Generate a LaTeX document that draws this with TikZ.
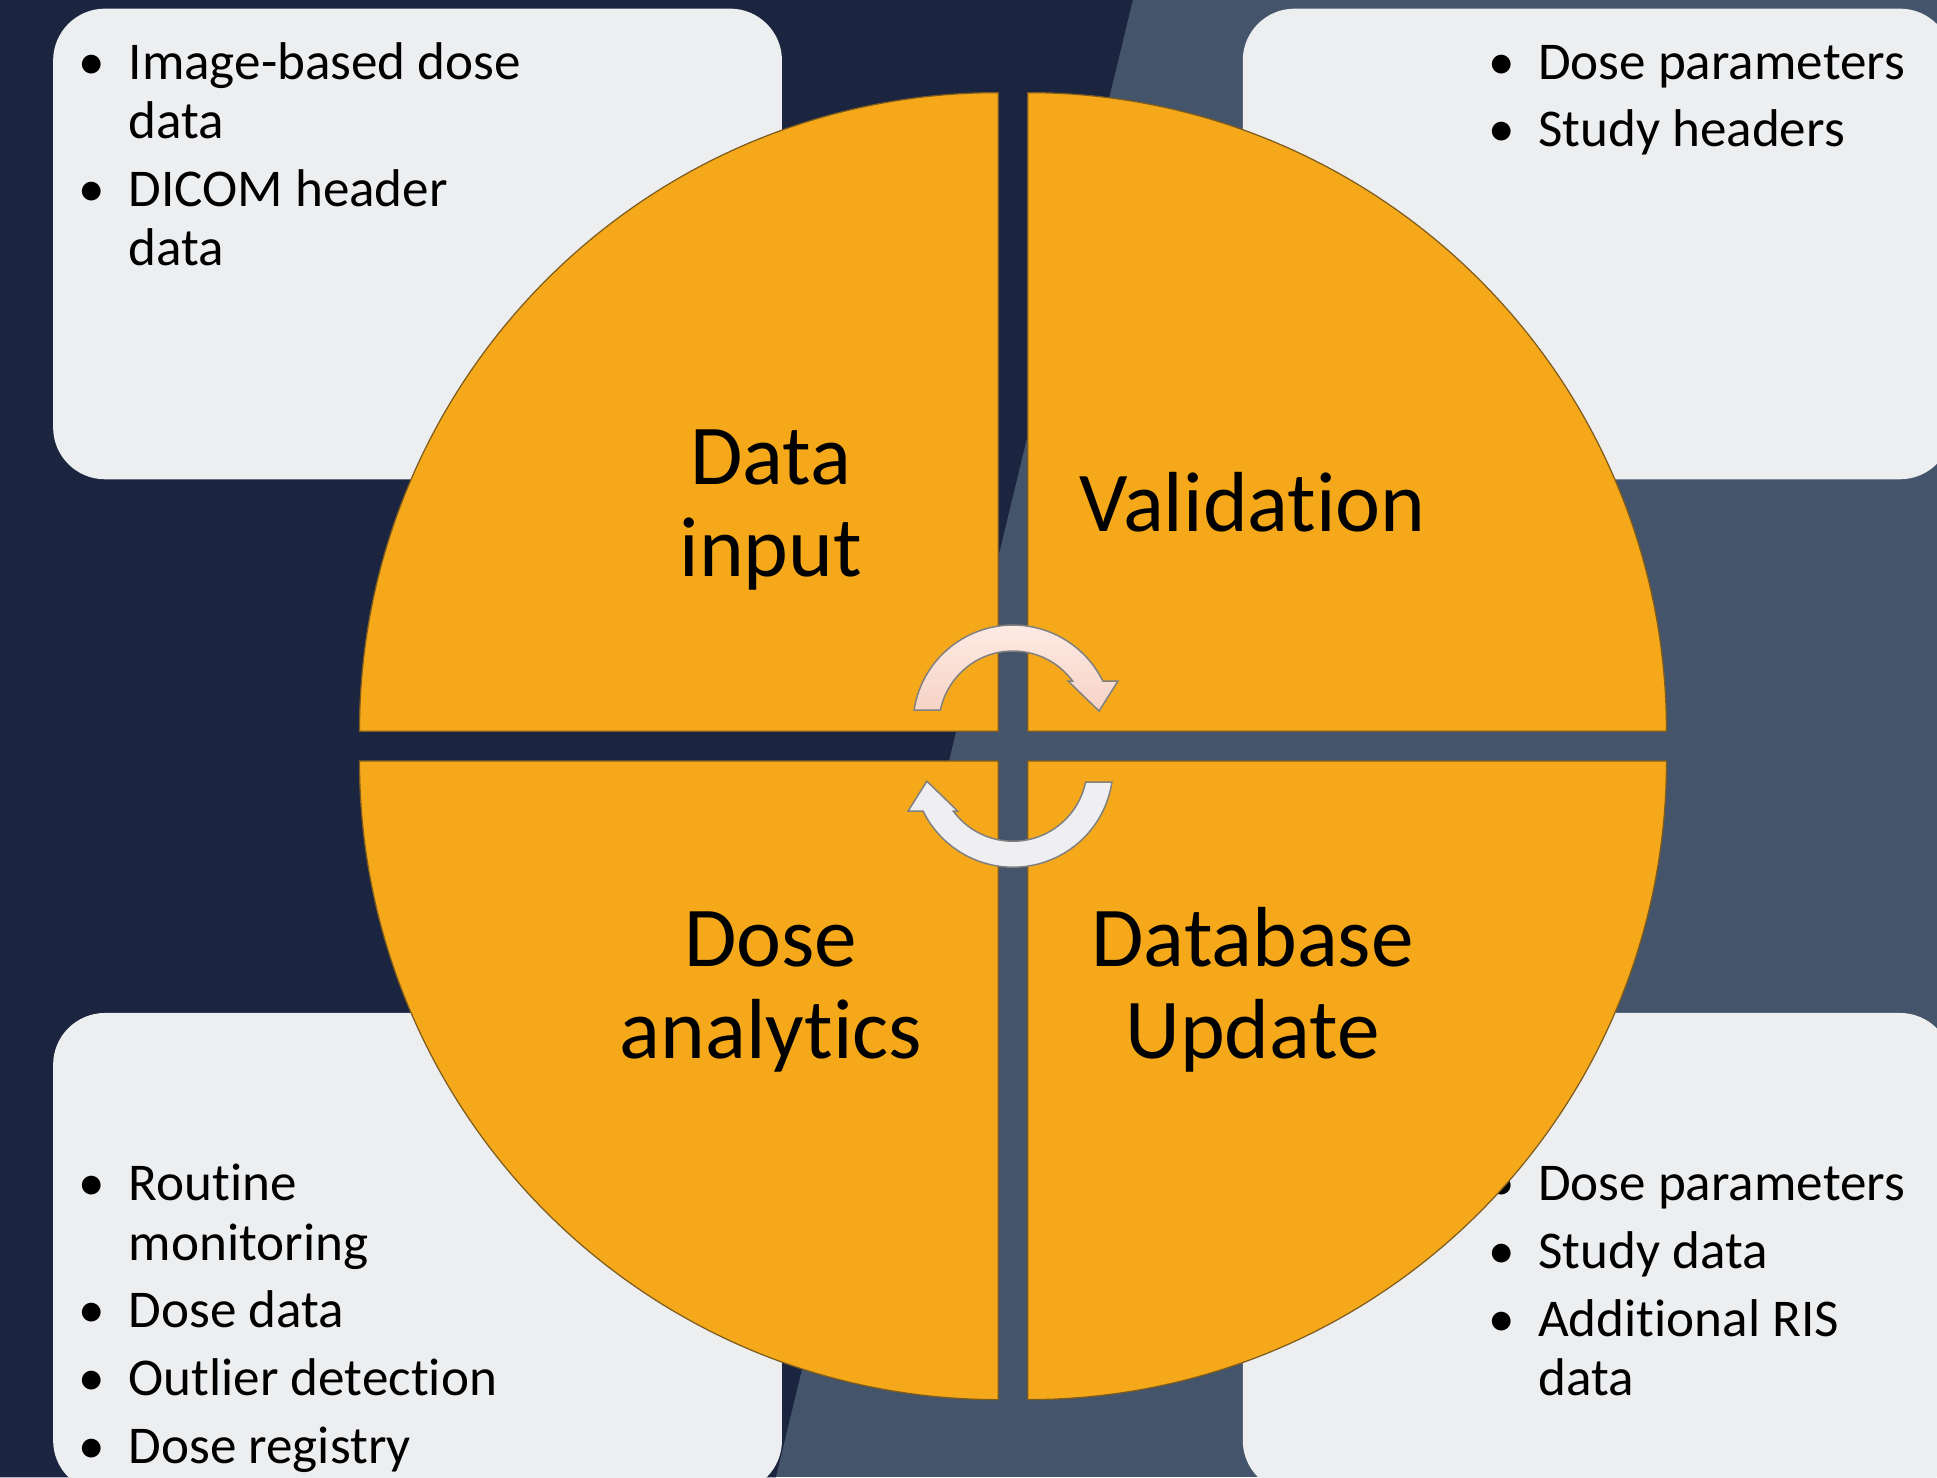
\documentclass[tikz,border=0pt]{standalone}
\usepackage{fontspec}
\setmainfont{Carlito}[RawFeature={-liga}]
\definecolor{navybg}{RGB}{27,37,64}
\definecolor{slatebg}{RGB}{68,84,106}
\definecolor{boxgray}{RGB}{237,238,240}
\definecolor{quadorange}{RGB}{244,168,26}
\definecolor{quadline}{RGB}{125,92,30}
\definecolor{arrowline}{RGB}{128,128,128}
\definecolor{arrowtop}{RGB}{253,236,230}
\definecolor{arrowbot}{RGB}{247,211,198}
\definecolor{arrowgray}{RGB}{239,239,241}
\newcommand\bulmark{\llap{\textbullet\hspace{19pt}}}
\tikzset{
  quad/.style={fill=quadorange, draw=quadline, line width=1pt},
  lightbox/.style={fill=boxgray, rounded corners=42pt},
  bullist/.style={anchor=base west, inner sep=0pt, font=\fontsize{43}{48}\selectfont},
  biglabel/.style={anchor=base, inner sep=0pt, font=\fontsize{69}{75}\selectfont},
  cycarrow/.style={draw=arrowline, line width=1.2pt},
}
\begin{document}
\begin{tikzpicture}[x=1pt,y=1pt]
\useasboundingbox (0,0) rectangle (1568,1196);
\clip (0,0) rectangle (1568,1196);
% background
\fill[slatebg] (0,0) rectangle (1568,1196);
\fill[navybg] (0,0) -- (628,0) -- (917,1196) -- (0,1196) -- cycle;
% light boxes
\fill[lightbox] (43,808) rectangle (633,1189);
\fill[lightbox] (1006,808) rectangle (1580,1189);
\fill[lightbox] (43,-12) rectangle (633,376);
\fill[lightbox] (1006,-12) rectangle (1580,376);
% bullet texts
\node[bullist] (tltext) at (104,1132) {\begin{tabular}[t]{@{}l@{}}\bulmark Image-based dose\\data\\[7pt]\bulmark DICOM header\\data\end{tabular}};
\node[bullist] (trtext) at (1245,1132) {\begin{tabular}[t]{@{}l@{}}\bulmark Dose parameters\\[7pt]\bulmark Study headers\end{tabular}};
\node[bullist] (bltext) at (104,224) {\begin{tabular}[t]{@{}l@{}}\bulmark Routine\\monitoring\\[7pt]\bulmark Dose data\\[7pt]\bulmark Outlier detection\\[7pt]\bulmark Dose registry\end{tabular}};
\node[bullist] (brtext) at (1245,224) {\begin{tabular}[t]{@{}l@{}}\bulmark Dose parameters\\[7pt]\bulmark Study data\\[7pt]\bulmark Additional RIS\\data\end{tabular}};
% quadrants
\draw[quad] (808,604) -- (291,604) arc[start angle=180, end angle=90, radius=517pt] -- cycle;
\draw[quad] (832,604) -- (832,1121) arc[start angle=90, end angle=0, radius=517pt] -- cycle;
\draw[quad] (808,580) -- (808,63) arc[start angle=270, end angle=180, radius=517pt] -- cycle;
\draw[quad] (832,580) -- (1349,580) arc[start angle=0, end angle=-90, radius=517pt] -- cycle;
% labels
\node[biglabel] (datainput) at (624,804) {\begin{tabular}[t]{@{}c@{}}Data\\input\end{tabular}};
\node[biglabel] (validation) at (1014,766) {Validation};
\node[biglabel] (doseanalytics) at (624,414) {\begin{tabular}[t]{@{}c@{}}Dose\\analytics\end{tabular}};
\node[biglabel] (dbupdate) at (1014,414) {\begin{tabular}[t]{@{}c@{}}Database\\Update\end{tabular}};
% circular arrows
\draw[cycarrow, top color=arrowtop, bottom color=arrowbot]
  (739.92,621.2) arc[start angle=171.34, end angle=26.15, radius=81pt]
  -- (905,644.7) -- (889.7,620.4) -- (864.6,644.7) -- (868.23,644.69)
  arc[start angle=36.51, end angle=168.27, radius=60pt] -- cycle;
\draw[cycarrow, fill=arrowgray]
  (900.08,562.8) arc[start angle=351.34, end angle=206.15, radius=81pt]
  -- (735,539.3) -- (750.3,563.6) -- (775.4,539.3) -- (771.77,539.31)
  arc[start angle=216.51, end angle=348.27, radius=60pt] -- cycle;
\end{tikzpicture}
\end{document}
